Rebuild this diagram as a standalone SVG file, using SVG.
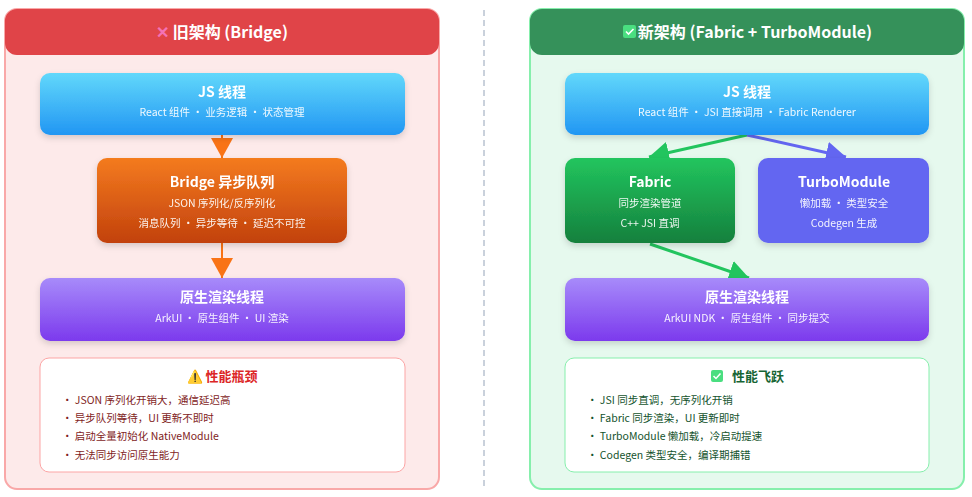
<svg xmlns="http://www.w3.org/2000/svg" width="972" height="497" viewBox="0 0 972 497">
<defs>
<linearGradient id="gBlue" x1="0" y1="0" x2="0" y2="1"><stop offset="0" stop-color="#62d8fb"/><stop offset="1" stop-color="#2196f3"/></linearGradient>
<linearGradient id="gOrange" x1="0" y1="0" x2="0" y2="1"><stop offset="0" stop-color="#f47b1f"/><stop offset="1" stop-color="#c2410c"/></linearGradient>
<linearGradient id="gPurple" x1="0" y1="0" x2="0" y2="1"><stop offset="0" stop-color="#a78bfa"/><stop offset="1" stop-color="#7c3aed"/></linearGradient>
<linearGradient id="gGreen" x1="0" y1="0" x2="0" y2="1"><stop offset="0" stop-color="#22c55e"/><stop offset="1" stop-color="#15803d"/></linearGradient>
<linearGradient id="gIndigo" x1="0" y1="0" x2="0" y2="1"><stop offset="0" stop-color="#6366f1"/><stop offset="1" stop-color="#6366f1"/></linearGradient>
<filter id="sh" x="-10%" y="-20%" width="120%" height="150%"><feDropShadow dx="0" dy="3" stdDeviation="3" flood-color="#000" flood-opacity="0.15"/></filter>
<marker id="aO" markerUnits="userSpaceOnUse" markerWidth="22" markerHeight="22" refX="20" refY="11" orient="auto"><path d="M0,0 L20,11 L0,22 Z" fill="#f97316"/></marker>
<marker id="aG" markerUnits="userSpaceOnUse" markerWidth="22" markerHeight="22" refX="20" refY="11" orient="auto"><path d="M0,0 L20,11 L0,22 Z" fill="#22c55e"/></marker>
<marker id="aB" markerUnits="userSpaceOnUse" markerWidth="22" markerHeight="22" refX="20" refY="11" orient="auto"><path d="M0,0 L20,11 L0,22 Z" fill="#6366f1"/></marker>
</defs>
<style>
text{font-family:"Noto Sans CJK SC","Liberation Sans",sans-serif;text-anchor:middle}
.h{font-size:16px;font-weight:bold;fill:#fff}
.t{font-size:14px;font-weight:bold;fill:#fff}
.s{font-size:10.5px;fill:#fff;opacity:0.92}
.b{font-size:10.5px;text-anchor:start}
.node{filter:url(#sh)}
</style>
<rect width="972" height="497" fill="#fff"/>
<g id="panel-old">
<rect x="5" y="9" width="434" height="480" rx="12" fill="#fdeaea" stroke="#f9a8a8" stroke-width="2"/>
<path d="M5,55 V21 a12,12 0 0 1 12,-12 H427 a12,12 0 0 1 12,12 V43 a12,12 0 0 1 -12,12 H17 a12,12 0 0 1 -12,-12 Z" fill="#e04448"/>
<text x="222" y="38" class="h"><tspan fill="#f472b6">✕</tspan> 旧架构 (Bridge)</text>
</g>
<line x1="484" y1="10" x2="484" y2="490" stroke="#94a3b8" stroke-width="1" stroke-dasharray="6,4"/>
<g id="panel-new">
<rect x="530" y="9" width="434" height="480" rx="12" fill="#e6f9ee" stroke="#86efac" stroke-width="2"/>
<path d="M530,55 V21 a12,12 0 0 1 12,-12 H952 a12,12 0 0 1 12,12 V43 a12,12 0 0 1 -12,12 H542 a12,12 0 0 1 -12,-12 Z" fill="#35915a"/>
<rect x="623" y="25" width="13" height="13" rx="2" fill="#4ade80"/>
<path d="M626,31.5 l2.5,2.5 l5,-5" stroke="#fff" stroke-width="1.6" fill="none"/>
<text x="755" y="38" class="h">新架构 (Fabric + TurboModule)</text>
</g>
<g id="connectors">
<line x1="222" y1="135" x2="222" y2="158" stroke="#f97316" stroke-width="2" marker-end="url(#aO)"/>
<line x1="222" y1="243" x2="222" y2="278" stroke="#f97316" stroke-width="2" marker-end="url(#aO)"/>
<line x1="747" y1="135" x2="649" y2="157" stroke="#22c55e" stroke-width="3" marker-end="url(#aG)"/>
<line x1="747" y1="135" x2="846" y2="157" stroke="#6366f1" stroke-width="3" marker-end="url(#aB)"/>
<line x1="650" y1="244" x2="749" y2="278" stroke="#22c55e" stroke-width="3" marker-end="url(#aG)"/>
</g>
<g id="old-js" class="node"><rect x="40" y="73" width="365" height="62" rx="10" fill="url(#gBlue)"/>
<text x="222" y="97" class="t">JS 线程</text><text x="222" y="116" class="s">React 组件 · 业务逻辑 · 状态管理</text></g>
<g id="old-bridge" class="node"><rect x="97" y="158" width="250" height="85" rx="10" fill="url(#gOrange)"/>
<text x="222" y="187" class="t">Bridge 异步队列</text><text x="222" y="207" class="s">JSON 序列化/反序列化</text><text x="222" y="227" class="s">消息队列 · 异步等待 · 延迟不可控</text></g>
<g id="old-native" class="node"><rect x="40" y="278" width="365" height="63" rx="10" fill="url(#gPurple)"/>
<text x="222" y="302" class="t">原生渲染线程</text><text x="222" y="322" class="s">ArkUI · 原生组件 · UI 渲染</text></g>
<g id="old-perf"><rect x="40" y="358" width="365" height="114" rx="9" fill="#fff" stroke="#fca5a5"/>
<text x="222" y="381" style="font-size:13px;font-weight:bold;fill:#dc2626">⚠️ 性能瓶颈</text>
<g fill="#7f1d1d"><text x="62" y="404" class="b">• JSON 序列化开销大，通信延迟高</text><text x="62" y="422" class="b">• 异步队列等待，UI 更新不即时</text><text x="62" y="440" class="b">• 启动全量初始化 NativeModule</text><text x="62" y="459" class="b">• 无法同步访问原生能力</text></g></g>
<g id="new-js" class="node"><rect x="565" y="73" width="364" height="62" rx="10" fill="url(#gBlue)"/>
<text x="747" y="97" class="t">JS 线程</text><text x="747" y="116" class="s">React 组件 · JSI 直接调用 · Fabric Renderer</text></g>
<g id="new-fabric" class="node"><rect x="565" y="158" width="170" height="85" rx="10" fill="url(#gGreen)"/>
<text x="650" y="187" class="t">Fabric</text><text x="650" y="207" class="s">同步渲染管道</text><text x="650" y="227" class="s">C++ JSI 直调</text></g>
<g id="new-turbo" class="node"><rect x="758" y="158" width="171" height="85" rx="10" fill="url(#gIndigo)"/>
<text x="844" y="187" class="t">TurboModule</text><text x="844" y="207" class="s">懒加载 · 类型安全</text><text x="844" y="227" class="s">Codegen 生成</text></g>
<g id="new-native" class="node"><rect x="565" y="278" width="364" height="63" rx="10" fill="url(#gPurple)"/>
<text x="747" y="302" class="t">原生渲染线程</text><text x="747" y="322" class="s">ArkUI NDK · 原生组件 · 同步提交</text></g>
<g id="new-perf"><rect x="565" y="358" width="364" height="114" rx="9" fill="#fff" stroke="#86efac"/>
<rect x="711" y="370" width="12" height="12" rx="2" fill="#4ade80"/>
<path d="M713.5,376 l2.5,2.5 l4.5,-5" stroke="#fff" stroke-width="1.5" fill="none"/>
<text x="758" y="381" style="font-size:13px;font-weight:bold;fill:#166534">性能飞跃</text>
<g fill="#14532d"><text x="587" y="404" class="b">• JSI 同步直调，无序列化开销</text><text x="587" y="422" class="b">• Fabric 同步渲染，UI 更新即时</text><text x="587" y="440" class="b">• TurboModule 懒加载，冷启动提速</text><text x="587" y="459" class="b">• Codegen 类型安全，编译期捕错</text></g></g>
</svg>
